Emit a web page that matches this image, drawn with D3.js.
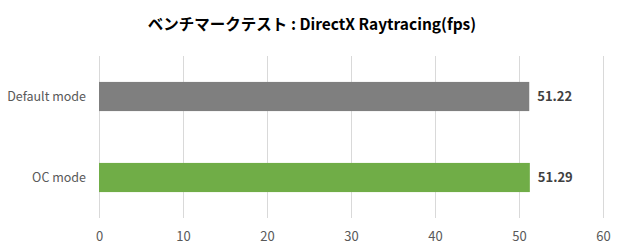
<!DOCTYPE html>
<html>
<head>
<meta charset="utf-8">
<script src="https://cdn.jsdelivr.net/npm/d3@7"></script>
<style>
  body { margin: 0; background: #fff; }
  text { font-family: "Noto Sans CJK JP", "Noto Sans", sans-serif; }
</style>
</head>
<body>
<div id="chart"></div>
<script>
// データ
const titleText = "ベンチマークテスト : DirectX Raytracing(fps)";
const categories = ["Default mode", "OC mode"];
const values = [51.22, 51.29];
const barColors = ["#7f7f7f", "#70ad47"];
const xTicks = [0, 10, 20, 30, 40, 50, 60];

const width = 620, height = 250;
const margin = { top: 56, right: 17, bottom: 32, left: 99 };

const svg = d3.select("#chart").append("svg")
    .attr("width", width)
    .attr("height", height);

// タイトル
svg.append("text")
    .attr("x", 312)
    .attr("y", 30)
    .attr("text-anchor", "middle")
    .style("font-size", "15.5px")
    .style("font-weight", "bold")
    .attr("fill", "#000")
    .text(titleText);

const x = d3.scaleLinear()
    .domain([0, 60])
    .range([margin.left, width - margin.right]);

const y = d3.scaleBand()
    .domain(categories)
    .range([margin.top, height - margin.bottom])
    .paddingInner(0.64)
    .paddingOuter(0.32);

// グリッド線
svg.append("g")
    .selectAll("line")
    .data(xTicks)
    .join("line")
    .attr("x1", d => x(d) + 0.5)
    .attr("x2", d => x(d) + 0.5)
    .attr("y1", margin.top)
    .attr("y2", height - margin.bottom)
    .attr("stroke", "#d9d9d9")
    .attr("stroke-width", 1);

// X軸ラベル
const xAxis = svg.append("g")
    .attr("transform", `translate(0,${height - margin.bottom})`)
    .call(d3.axisBottom(x).tickValues(xTicks).tickSize(0).tickPadding(14));
xAxis.select(".domain").remove();
xAxis.selectAll("text")
    .attr("fill", "#595959")
    .style("font-size", "13px");

// Y軸ラベル
const yAxis = svg.append("g")
    .attr("transform", `translate(${margin.left},0)`)
    .call(d3.axisLeft(y).tickSize(0).tickPadding(13));
yAxis.select(".domain").remove();
yAxis.selectAll("text")
    .attr("fill", "#595959")
    .style("font-size", "12.5px");

// バー
svg.append("g")
    .selectAll("rect")
    .data(categories)
    .join("rect")
    .attr("x", x(0))
    .attr("y", d => y(d))
    .attr("width", (d, i) => x(values[i]) - x(0))
    .attr("height", y.bandwidth())
    .attr("fill", (d, i) => barColors[i]);

// 値ラベル
svg.append("g")
    .selectAll("text")
    .data(categories)
    .join("text")
    .attr("x", (d, i) => x(values[i]) + 8)
    .attr("y", d => y(d) + y.bandwidth() / 2)
    .attr("dy", "0.35em")
    .attr("fill", "#404040")
    .style("font-size", "13px")
    .style("font-weight", "bold")
    .text((d, i) => values[i].toFixed(2));
</script>
</body>
</html>
